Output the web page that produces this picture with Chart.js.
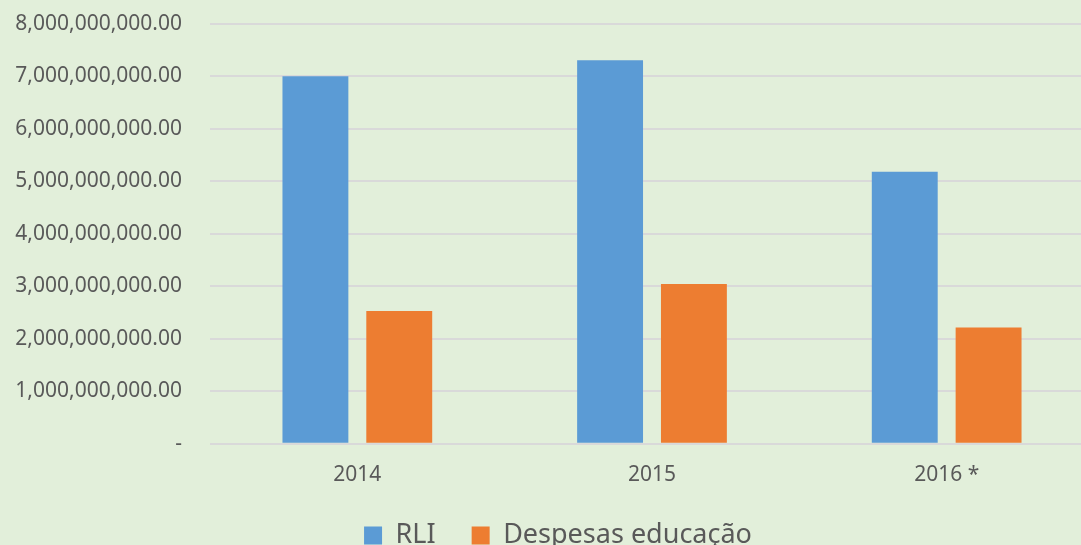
<!DOCTYPE html>
<html>
<head>
<meta charset="utf-8">
<script src="https://cdn.jsdelivr.net/npm/chart.js@4"></script>
<style>
  html, body { margin: 0; padding: 0; background: #e2efda; overflow: hidden; width: 1081px; height: 545px; position: relative; }
  #wrap { width: 1094px; height: 566px; position: absolute; left: 0; top: -17px; }
</style>
</head>
<body>
<div id="wrap"><canvas id="c"></canvas></div>
<script>
const years = ['2014', '2015', '2016 *'];
const rli = [7000000000, 7300000000, 5180000000];
const despesas = [2530000000, 3040000000, 2215000000];
const seriesNames = ['RLI', 'Despesas educação'];

const fmt = (v) => v === 0 ? '-' : v.toLocaleString('en-US', { minimumFractionDigits: 2, maximumFractionDigits: 2 });
const font = '"Noto Sans", sans-serif';

// legend sits a little right of centre and lower in the original;
// wide item gaps come from labels.padding, so undo the height it would take
const nudgeLegend = {
  id: 'nudgeLegend',
  afterLayout(chart) {
    const l = chart.legend;
    l.left += 11; l.right += 11; l.top -= 13;
    l.height = 120; l.bottom = l.top + l.height;
  },
};

new Chart(document.getElementById('c'), {
  type: 'bar',
  data: {
    labels: years,
    datasets: [
      { label: seriesNames[0], data: rli, backgroundColor: '#5b9bd5' },
      { label: seriesNames[1], data: despesas, backgroundColor: '#ed7d31' },
    ],
  },
  plugins: [nudgeLegend],
  options: {
    responsive: true, maintainAspectRatio: false, animation: false,
    categoryPercentage: 0.569, barPercentage: 0.786,
    layout: { padding: 0 },
    plugins: {
      tooltip: { enabled: false },
      legend: {
        position: 'bottom', maxHeight: 50,
        labels: { boxWidth: 18, boxHeight: 18, color: '#595959', font: { family: font, size: 27 }, padding: 36 },
      },
    },
    scales: {
      x: {
        grid: { display: false }, border: { display: false },
        ticks: { color: '#595959', font: { family: font, size: 21 }, padding: 11 },
      },
      y: {
        min: 0, max: 8000000000,
        afterFit: (s) => { s.width = 210; },
        grid: { color: '#d9d9d9', lineWidth: 2, drawTicks: false },
        border: { display: false },
        ticks: { stepSize: 1000000000, color: '#595959', font: { family: font, size: 21 }, padding: 28, callback: fmt },
      },
    },
  },
});
</script>
</body>
</html>
